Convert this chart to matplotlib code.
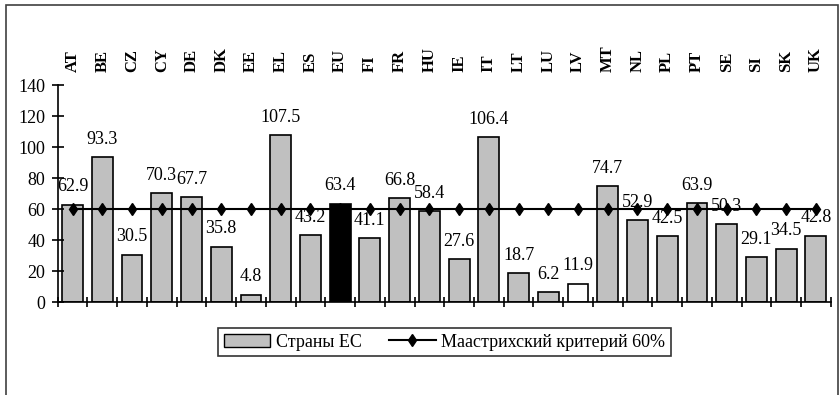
import numpy as np
import matplotlib
matplotlib.use('Agg')
import matplotlib.pyplot as plt
from matplotlib.patches import Rectangle, Patch
from matplotlib.lines import Line2D

plt.rcParams['font.family'] = ['Liberation Serif', 'DejaVu Serif']

# данные
countries = ['AT', 'BE', 'CZ', 'CY', 'DE', 'DK', 'EE', 'EL', 'ES', 'EU', 'FI', 'FR', 'HU',
             'IE', 'IT', 'LT', 'LU', 'LV', 'MT', 'NL', 'PL', 'PT', 'SE', 'SI', 'SK', 'UK']
debt = [62.9, 93.3, 30.5, 70.3, 67.7, 35.8, 4.8, 107.5, 43.2, 63.4, 41.1, 66.8, 58.4,
        27.6, 106.4, 18.7, 6.2, 11.9, 74.7, 52.9, 42.5, 63.9, 50.3, 29.1, 34.5, 42.8]
criterion = [60] * len(countries)
y_ticks = [0, 20, 40, 60, 80, 100, 120, 140]

fig = plt.figure(figsize=(8.4, 3.95), dpi=100)
ax = fig.add_axes([0.0687, 0.2354, 0.9203, 0.5494])

x = np.arange(len(countries))
colors = ['#c0c0c0'] * len(countries)
colors[countries.index('EU')] = 'black'
colors[countries.index('LV')] = 'white'

ax.bar(x, debt, width=0.7, color=colors, edgecolor='black', linewidth=1.2)
ax.plot(x, criterion, color='black', lw=1.5, marker='d', markersize=6)

# подписи значений
for i, v in enumerate(debt):
    ax.text(i, v + 6, f'{v}', ha='center', va='bottom', fontsize=13)

# страны сверху
for i, c in enumerate(countries):
    ax.text(i, 1.06, c, transform=ax.get_xaxis_transform(), rotation=90,
            ha='center', va='bottom', fontsize=12, fontweight='bold')

ax.set_xlim(-0.5, len(countries) - 0.5)
ax.set_ylim(0, 140)
ax.set_yticks(y_ticks)
ax.set_xticks(np.arange(-0.5, len(countries), 1))
ax.set_xticklabels([])
ax.tick_params(axis='y', direction='inout', length=8, width=1.2, labelsize=13, pad=5)
ax.tick_params(axis='x', direction='inout', length=7, width=1.2)
ax.spines['top'].set_visible(False)
ax.spines['right'].set_visible(False)
ax.spines['left'].set_linewidth(1.2)
ax.spines['bottom'].set_linewidth(1.2)

handles = [Patch(facecolor='#c0c0c0', edgecolor='black', label='Страны ЕС'),
           Line2D([0], [0], color='black', lw=1.5, marker='d', markersize=6,
                  label='Маастрихский критерий 60%')]
leg = fig.legend(handles=handles, loc='center', bbox_to_anchor=(0.529, 0.134), ncol=2,
                 fontsize=13, frameon=True, fancybox=False, edgecolor='black',
                 handlelength=2.6, handletextpad=0.3, columnspacing=1.5, borderpad=0.3)
leg.get_frame().set_linewidth(1.2)

# рамка
fig.patches.append(Rectangle((6 / 840, -0.1), 832 / 840, 1.1 - 5 / 395,
                             transform=fig.transFigure, fill=False,
                             edgecolor='#404040', lw=1.2))

fig.savefig('out.png', dpi=100)
